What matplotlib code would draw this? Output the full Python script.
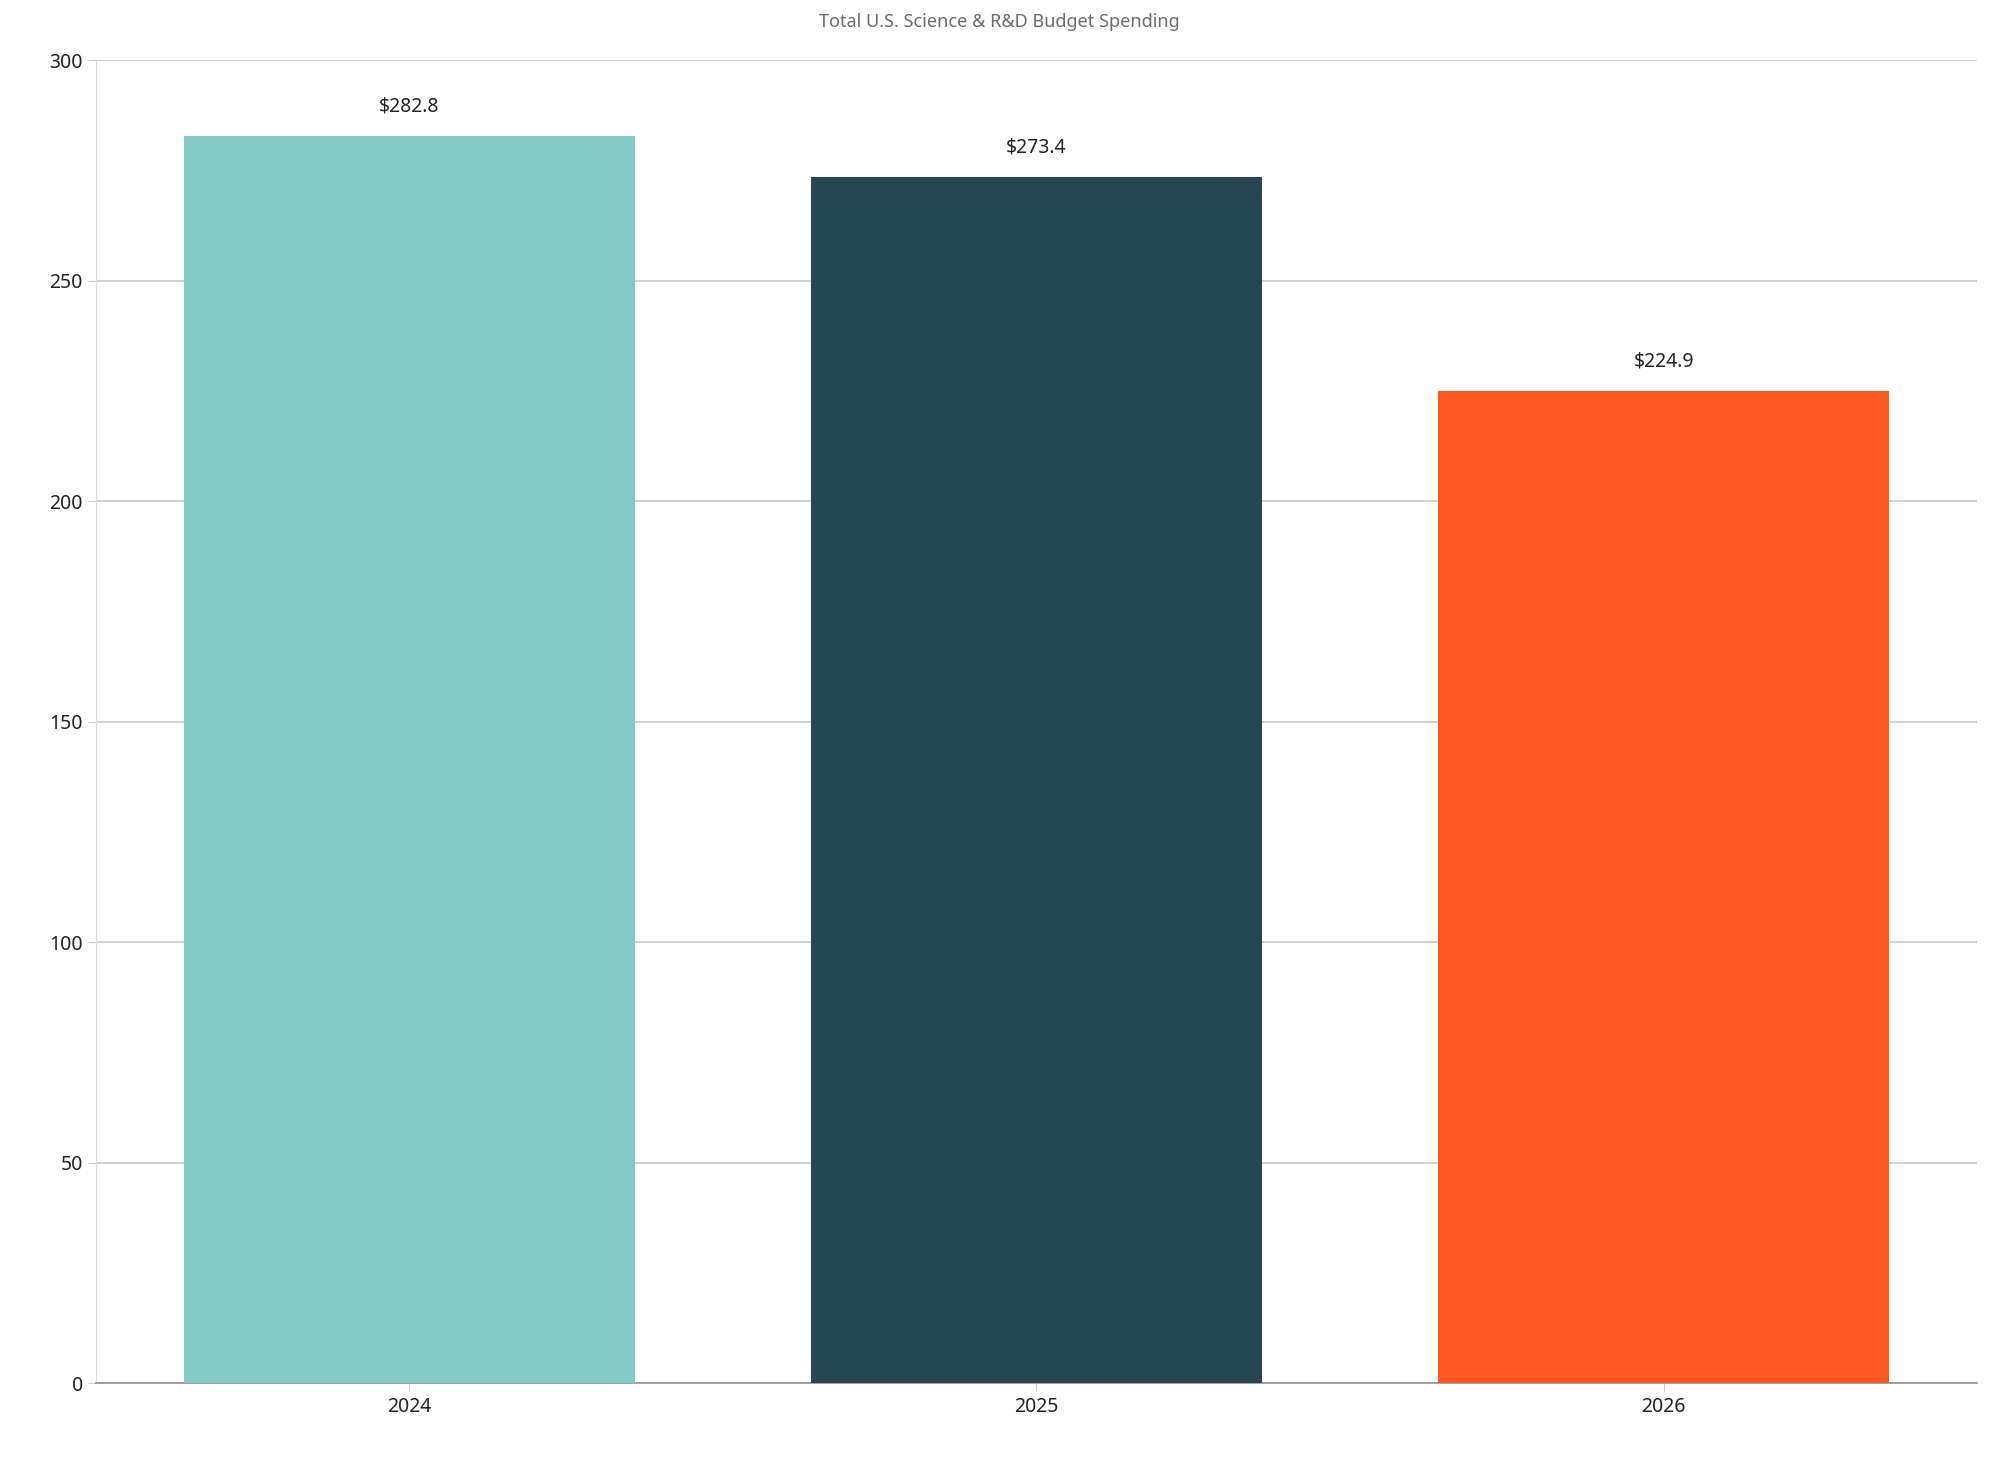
import matplotlib.pyplot as plt

years = ["2024", "2025", "2026"]
spending = [282.8, 273.4, 224.9]
bar_colors = ["#82cac3", "#264653", "#ff5722"]
y_ticks = [0, 50, 100, 150, 200, 250, 300]

plt.rcParams["font.family"] = "Noto Sans"

fig = plt.figure(figsize=(19.99, 14.64), dpi=100)
ax = fig.add_axes([0.048, 0.055, 0.941, 0.904])

x = range(len(years))
bars = ax.bar(x, spending, width=0.72, color=bar_colors, zorder=3)
for bar, v in zip(bars, spending):
    ax.annotate(f"${v:.1f}", (bar.get_x() + bar.get_width() / 2, v),
                xytext=(0, 14), textcoords="offset points",
                ha="center", va="bottom", fontsize=14, color="#222222")

ax.set_xlim(-0.5, 2.5)
ax.set_ylim(0, 300)
ax.set_xticks(list(x))
ax.set_xticklabels(years)
ax.set_yticks(y_ticks)
ax.tick_params(axis="both", labelsize=14, colors="#222222", length=6)
ax.tick_params(axis="both", color="#cccccc")
ax.grid(axis="y", color="#c8c8c8", linewidth=1.2, zorder=0)
ax.spines["top"].set_visible(False)
ax.spines["right"].set_visible(False)
ax.spines["left"].set_color("#dddddd")
ax.spines["bottom"].set_color("#999999")
ax.spines["bottom"].set_linewidth(1.3)

fig.text(0.5, 0.985, "Total U.S. Science & R&D Budget Spending", ha="center",
         va="center", fontsize=13, fontweight="bold", color="#6b6b6b")

fig.savefig("out.png", dpi=100)
